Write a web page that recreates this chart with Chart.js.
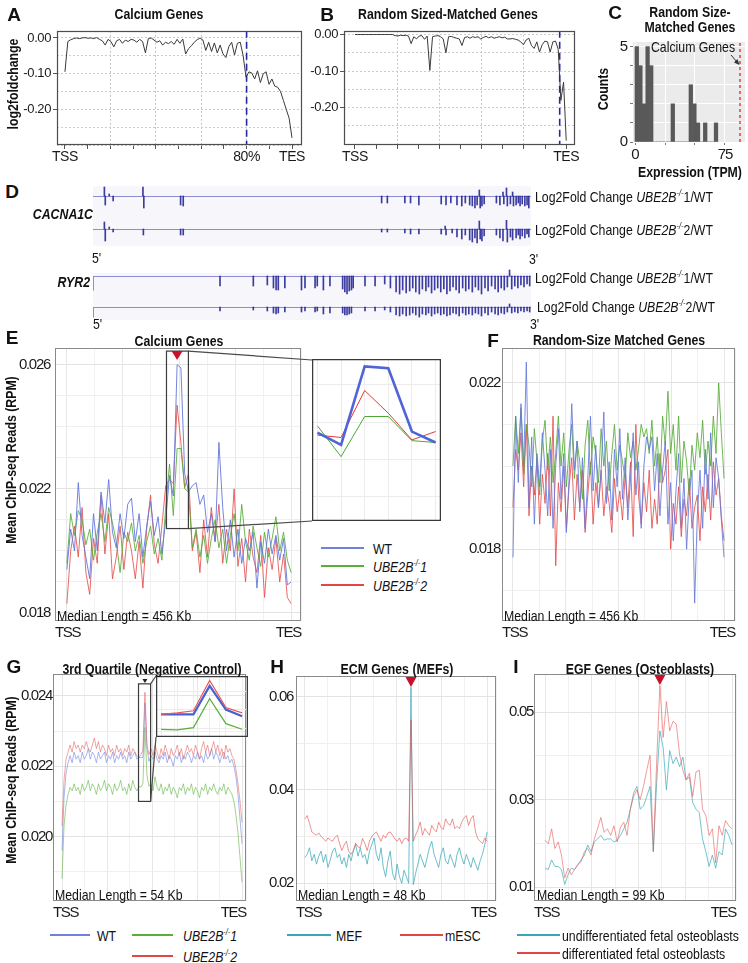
<!DOCTYPE html>
<html>
<head>
<meta charset="utf-8">
<title>UBE2B profiles</title>
<script src="https://cdn.jsdelivr.net/npm/chart.js@4.4.1/dist/chart.umd.min.js"></script>
<style>
  body { margin: 0; background: #fff; }
  #fig { position: relative; width: 748px; height: 963px; overflow: hidden; background: #fff;
         font-family: "Liberation Sans", Arial, sans-serif; color: #111; }
  #fig canvas { position: absolute; }
  .t { position: absolute; white-space: nowrap; line-height: 1; }
  .lt { font-weight: bold; font-size: 19px; }
  .ti { font-weight: bold; font-size: 15px; }
  .ax { font-weight: bold; font-size: 15px; }
  .lg { font-size: 15px; }
  .gn { font-weight: bold; font-style: italic; font-size: 15px; }
  sup { font-size: 9px; vertical-align: 6px; line-height: 0; }
  .sw { position: absolute; }
  .bg { position: absolute; background: #f6f6fb; }
  #ov { position: absolute; left: 0; top: 0; pointer-events: none; }
</style>
</head>
<body>
<div id="fig"></div>
<script>
Chart.defaults.font.family = '"Liberation Sans", Arial, sans-serif';
Chart.defaults.color = '#1a1a1a';

// ---------- A / B : log2 fold change along the gene body ----------
const A_log2fc = [-0.095,-0.010,-0.005,-0.002,0.000,-0.002,0.000,0.001,-0.001,0.000,
  -0.002,0.001,-0.004,-0.008,-0.020,-0.004,-0.010,-0.025,-0.008,-0.004,
  -0.015,-0.006,-0.010,-0.004,-0.006,-0.012,-0.004,-0.010,-0.042,-0.002,
  0.000,-0.006,-0.012,-0.008,-0.020,-0.012,-0.016,-0.010,-0.018,-0.004,
  -0.015,-0.003,-0.045,-0.030,-0.022,-0.012,-0.005,0.000,-0.006,-0.035,
  -0.012,-0.038,-0.014,-0.042,-0.020,-0.045,-0.055,-0.025,-0.012,-0.048,
  -0.015,-0.012,-0.050,-0.110,-0.095,-0.098,-0.115,-0.092,-0.125,-0.100,
  -0.095,-0.130,-0.115,-0.135,-0.138,-0.150,-0.175,-0.200,-0.225,-0.280];
const A_mark = 80;
const B_log2fc = [0,0,0,0,0,0,0,0,0,0,
  0,0,0,0,0,-0.003,-0.004,-0.002,-0.003,-0.002,
  -0.004,-0.025,-0.006,-0.012,-0.004,-0.003,-0.013,-0.004,-0.098,-0.006,
  -0.004,-0.003,-0.006,-0.012,-0.050,-0.006,-0.005,-0.008,-0.010,-0.012,
  -0.030,-0.008,-0.006,-0.010,-0.006,-0.008,-0.006,-0.012,-0.008,-0.005,
  -0.009,-0.006,-0.010,-0.008,-0.006,-0.009,-0.007,-0.012,-0.012,-0.011,
  -0.013,-0.015,-0.020,-0.028,-0.015,-0.010,-0.030,-0.038,-0.020,-0.048,
  -0.028,-0.018,-0.020,-0.048,-0.020,-0.018,-0.040,-0.180,-0.130,-0.290];
const B_mark = 96.9;
const AB_yGrid = [-0.30,-0.25,-0.20,-0.15,-0.10,-0.05,0.00];
const AB_yLab = [-0.20,-0.10,0.00];
const AB_xTicks = [0,10,20,30,40,50,60,70,80,90,100];

// ---------- C : histogram of expression ----------
const C_counts = [5,4,2,5,4,0,0,0,0,0,2,0,0,0,0,3,2,1,0,1,0,0,1];
const C_binStart = 0, C_binWidth = 3;
const C_calcium = 87.5;

// ---------- D : genome tracks (position % of gene, log2FC bar height) ----------
const D_C1_pos = [2.6,2.8,3.7,4.6,11.4,11.6,20.0,20.6,65.9,67.2,71.2,72.5,74.4,79.5,80.6,81.7,83.1,84.2,
  85.0,86.0,86.6,87.2,87.7,88.2,88.4,88.8,89.3,92.1,92.9,93.6,93.8,94.4,94.6,95.3,95.8,96.0,96.6,97.1,
  97.5,98.0,98.6,99.1,99.5];
const D_C1_val = [9,-9,2,-5,9,-12,-9,-10,-7,-7,-7,-7,-9,-8,-9,-7,-9,-10,
  -7,-9,-10,-12,-9,6,-12,-10,-8,-7,-9,4,-8,8,-10,-8,4,-10,-9,-7,
  -10,-8,-10,-9,-12];
const D_C2_pos = [2.6,2.8,3.7,4.6,11.5,20.0,20.6,65.9,67.2,71.2,72.5,74.4,79.5,80.4,80.6,82.0,83.1,
  84.2,85.0,86.0,86.6,87.2,87.7,88.2,88.4,88.8,89.3,92.1,92.9,93.6,94.4,94.6,95.3,95.8,96.6,97.1,97.5,
  98.0,98.6,99.1,99.5];
const D_C2_val = [7,-12,2,-3,-6,-6,-6,-3,-3,-4,-5,-5,-5,3,-6,-4,-8,
  -10,-6,-11,-13,-9,-14,8,-10,-12,-7,-6,-9,-12,9,-13,-8,-11,-9,-6,-10,
  -7,-9,-5,-8];
const D_R1_pos = [29.0,36.6,39.8,41.2,41.8,42.3,43.8,47.6,48.4,50.7,51.2,52.6,54.1,57.0,57.5,58.0,58.5,59.0,59.4,
  62.1,64.4,66.6,67.9,69.2,70.0,70.7,71.5,72.3,73.0,73.7,74.5,75.2,76.0,76.6,77.3,78.0,78.7,79.4,80.1,80.8,
  81.5,82.2,82.9,83.6,84.4,85.1,85.8,86.6,87.3,88.0,88.7,89.5,90.2,91.0,91.8,92.5,93.2,93.9,94.6,95.1,
  95.6,96.3,97.0,97.7,98.4,99.1,99.7];
const D_R1_val = [-10,-10,-9,-12,-14,-14,-12,-14,-12,-12,-10,-14,-10,-13,-16,-18,-15,-14,-12,
  -10,-10,-8,-12,-16,-18,-14,-17,-15,-12,-16,-18,-13,-15,-11,-17,-14,-12,-16,-13,-18,
  -15,-11,-14,-17,-12,-15,-13,-16,-11,-14,-18,-12,-15,-10,-13,-16,-12,-14,-11,6,
  -13,-10,-12,-9,-11,-8,-10];
const D_R2_pos = [29.0,36.6,39.8,41.2,41.8,42.3,43.8,47.6,48.4,50.7,51.2,52.6,54.1,57.0,57.5,58.0,58.5,59.0,
  62.1,64.4,66.6,67.9,69.2,70.0,70.7,71.5,72.3,73.0,73.7,74.5,75.2,76.0,76.6,77.3,78.0,78.7,79.4,80.1,80.8,
  81.5,82.2,82.9,83.6,84.4,85.1,85.8,86.6,87.3,88.0,88.7,89.5,90.2,91.0,91.8,92.5,93.2,93.9,94.6,95.1,
  95.6,96.3,97.0,97.7,98.4,99.1,99.7];
const D_R2_val = [-4,-3,-4,-6,-7,-6,-5,-5,-4,-5,-4,-7,-6,-6,-8,-8,-7,-6,
  -4,-4,-3,-5,-8,-9,-7,-9,-8,-6,-8,-10,-7,-8,-6,-9,-7,-6,-8,-7,-9,
  -8,-6,-7,-9,-6,-8,-7,-8,-6,-7,-9,-6,-8,-5,-7,-8,-6,-7,-5,3,
  -6,-5,-6,-4,-5,-4,-5];

// ---------- E : calcium genes, mean ChIP-seq reads (RPM) ----------
const E_wt = [0.0194,0.0207,0.0200,0.0222,0.0205,0.0198,0.0191,0.0212,0.0200,0.0219,
  0.0209,0.0223,0.0206,0.0201,0.0212,0.0204,0.0215,0.0217,0.0203,0.0212,
  0.0198,0.0208,0.0216,0.0205,0.0211,0.0199,0.0210,0.02243,0.02177,0.0260,
  0.0259,0.02249,0.0219,0.0221,0.0222,0.0215,0.0218,0.0206,0.0212,0.0203,
  0.0235,0.0214,0.0200,0.0210,0.0198,0.0207,0.0196,0.0204,0.0200,0.0206,
  0.0188,0.0203,0.0196,0.0207,0.0199,0.0205,0.0197,0.0204,0.0189,0.0190];
const E_ko1 = [0.0196,0.0212,0.0205,0.0213,0.0210,0.0202,0.0207,0.0197,0.0206,0.0212,
  0.0203,0.0214,0.0209,0.0203,0.0193,0.0206,0.0203,0.0209,0.0200,0.0205,
  0.0196,0.0203,0.0208,0.0199,0.0204,0.0197,0.0214,0.0228,0.02114,0.0233,
  0.0233,0.0220,0.0219,0.0201,0.0207,0.0198,0.0205,0.0196,0.0204,0.0210,
  0.0201,0.0207,0.0196,0.0205,0.0212,0.0200,0.0215,0.0203,0.0197,0.0208,
  0.0201,0.0195,0.0206,0.0198,0.0204,0.0211,0.0200,0.0206,0.0197,0.0193];
const E_ko2 = [0.0183,0.0200,0.0208,0.0198,0.0214,0.0193,0.0186,0.0204,0.0196,0.0218,
  0.0199,0.0212,0.0191,0.0198,0.0208,0.0194,0.0206,0.0200,0.0191,0.0203,
  0.0188,0.0207,0.0218,0.0202,0.0196,0.0208,0.0221,0.0223,0.02217,0.0247,
  0.02348,0.02204,0.02249,0.0200,0.0206,0.0193,0.0210,0.0198,0.0214,0.0203,
  0.0215,0.0196,0.0207,0.0200,0.0220,0.0195,0.0204,0.0190,0.0207,0.0198,
  0.0193,0.0205,0.0185,0.0201,0.0194,0.0204,0.0190,0.0199,0.0185,0.0183];
const E_peak = 29, E_zoom = [27, 32];
const E_boxY = [0.02072, 0.02644];

// ---------- F : random size matched genes ----------
const F_wt = [0.0178,0.0212,0.0196,0.0215,0.0200,0.0225,0.0190,0.0207,0.0186,0.0203,
  0.0195,0.0208,0.0199,0.0188,0.0204,0.0185,0.0200,0.0209,0.0192,0.0203,
  0.0184,0.0197,0.0215,0.0199,0.0206,0.0189,0.0202,0.0185,0.0197,0.0212,
  0.0194,0.0205,0.0190,0.0199,0.0213,0.0191,0.0201,0.0187,0.0204,0.0195,
  0.0209,0.0192,0.0202,0.0187,0.0197,0.0208,0.0193,0.0201,0.0185,0.0200,
  0.0207,0.0204,0.0207,0.0194,0.0203,0.0188,0.0199,0.0206,0.0186,0.0196,
  0.0182,0.0194,0.0203,0.0185,0.0197,0.0180,0.0193,0.0199,0.0167,0.0188,
  0.0199,0.0185,0.0204,0.0192,0.0208,0.0190,0.0202,0.0197,0.0187,0.0178];
const F_ko1 = [0.0200,0.0212,0.0203,0.0214,0.0198,0.0210,0.0205,0.0195,0.0209,0.0201,
  0.0193,0.0206,0.0211,0.0199,0.0207,0.0196,0.0203,0.0212,0.0200,0.0208,
  0.0195,0.0204,0.0210,0.0197,0.0206,0.0201,0.0192,0.0205,0.0211,0.0198,
  0.0207,0.0203,0.0196,0.0209,0.0200,0.0206,0.0194,0.0203,0.0210,0.0199,
  0.0205,0.0201,0.0197,0.0208,0.0202,0.0206,0.0199,0.0204,0.0210,0.0207,
  0.0209,0.0203,0.0211,0.0200,0.0207,0.0196,0.0212,0.0205,0.0218,0.0203,
  0.0210,0.0199,0.0212,0.0196,0.0206,0.0201,0.0193,0.0205,0.0199,0.0208,
  0.0202,0.0211,0.0198,0.0206,0.0200,0.0212,0.0203,0.0220,0.0208,0.0197];
const F_ko2 = [0.0190,0.0204,0.0199,0.0208,0.0195,0.0210,0.0188,0.0200,0.0193,0.0202,
  0.0186,0.0198,0.0191,0.0203,0.0188,0.0212,0.0176,0.0196,0.0189,0.0200,
  0.0185,0.0195,0.0202,0.0187,0.0198,0.0190,0.0199,0.0184,0.0193,0.0201,
  0.0186,0.0196,0.0190,0.0199,0.0188,0.0195,0.0191,0.0184,0.0197,0.0189,
  0.0194,0.0187,0.0198,0.0190,0.0201,0.0183,0.0210,0.0193,0.0186,0.0196,
  0.0189,0.0199,0.0185,0.0192,0.0186,0.0203,0.0196,0.0199,0.0204,0.0180,
  0.0191,0.0186,0.0195,0.0183,0.0192,0.0188,0.0197,0.0185,0.0190,0.0193,
  0.0182,0.0195,0.0189,0.0198,0.0187,0.0201,0.0193,0.0197,0.0188,0.0182];

// ---------- G : 3rd quartile (negative control) ----------
const G_wt = [0.0196,0.0211,0.0218,0.0221,0.0223,0.0221,0.0224,0.0222,0.0223,0.0221,
  0.0224,0.0222,0.0223,0.0225,0.0222,0.0224,0.0223,0.0221,0.0224,0.0222,
  0.0223,0.0224,0.0221,0.0223,0.0222,0.0224,0.0221,0.0223,0.0222,0.0224,
  0.0222,0.0223,0.0221,0.0224,0.0222,0.0223,0.0224,0.0222,0.02225,0.02224,
  0.02225,0.0238,0.02251,0.02214,0.0223,0.0222,0.0224,0.0222,0.0221,0.0223,
  0.0222,0.0224,0.0221,0.0223,0.0222,0.0220,0.0223,0.0222,0.0224,0.0221,
  0.0223,0.0222,0.0224,0.0223,0.0221,0.0223,0.0222,0.0224,0.0222,0.0223,
  0.0221,0.0224,0.0222,0.0223,0.0225,0.0222,0.0224,0.0223,0.0221,0.0223,
  0.0224,0.0222,0.0223,0.0221,0.0222,0.0220,0.0217,0.0212,0.0205,0.0198];
const G_ko1 = [0.0188,0.0203,0.0209,0.0212,0.0214,0.0213,0.0215,0.0213,0.0214,0.0212,
  0.0215,0.0213,0.0214,0.0216,0.0213,0.0215,0.0214,0.0212,0.0215,0.0213,
  0.0214,0.0216,0.0213,0.0215,0.0214,0.0212,0.0215,0.0213,0.0214,0.0216,
  0.0213,0.0214,0.0212,0.0215,0.0213,0.0216,0.0214,0.0213,0.02143,0.02140,
  0.02152,0.0231,0.02174,0.02143,0.0215,0.0213,0.0217,0.0214,0.0213,0.0215,
  0.0212,0.0214,0.0213,0.0215,0.0212,0.0214,0.0213,0.0211,0.0214,0.0213,
  0.0215,0.0212,0.0214,0.0213,0.0215,0.0212,0.0214,0.0213,0.0211,0.0214,
  0.0213,0.0215,0.0212,0.0214,0.0213,0.0215,0.0213,0.0212,0.0214,0.0213,
  0.0215,0.0212,0.0214,0.0213,0.0212,0.0210,0.0206,0.0201,0.0194,0.0187];
const G_ko2 = [0.0203,0.0216,0.0222,0.0224,0.0226,0.0224,0.0227,0.0225,0.0226,0.0224,
  0.0226,0.0225,0.0227,0.0225,0.0224,0.0226,0.0228,0.0225,0.0227,0.0224,
  0.0226,0.0225,0.0223,0.0226,0.0224,0.0225,0.0223,0.0226,0.0224,0.0225,
  0.0223,0.0225,0.0224,0.0226,0.0223,0.0225,0.0224,0.0223,0.02224,0.02233,
  0.02244,0.0241,0.02262,0.02233,0.0225,0.0223,0.0226,0.0224,0.0222,0.0225,
  0.0223,0.0226,0.0224,0.0222,0.0225,0.0223,0.0224,0.0226,0.0223,0.0225,
  0.0222,0.0224,0.0226,0.0224,0.0225,0.0223,0.0226,0.0224,0.0222,0.0225,
  0.0227,0.0224,0.0226,0.0223,0.0225,0.0227,0.0224,0.0226,0.0223,0.0225,
  0.0222,0.0226,0.0224,0.0225,0.0223,0.0222,0.0219,0.0215,0.0210,0.0204];
const G_peak = 41, G_zoom = [38, 43];
const G_boxY = [0.0210, 0.02434];

// ---------- H : ECM genes (MEFs) ----------
const H_mesc = [0.0338,0.0345,0.0328,0.0310,0.0306,0.0303,0.0308,0.0300,0.0296,0.0290,
  0.0297,0.0293,0.0290,0.0298,0.0303,0.0286,0.0270,0.0282,0.0290,0.0268,
  0.0262,0.0270,0.0286,0.0278,0.0276,0.0296,0.0285,0.0270,0.0290,0.0300,
  0.0306,0.0310,0.0300,0.0290,0.0303,0.0297,0.0308,0.0310,0.0303,0.0295,
  0.0290,0.0297,0.0285,0.0295,0.0297,0.0290,0.0550,0.0290,0.0303,0.0315,
  0.0331,0.0303,0.0317,0.0310,0.0303,0.0324,0.0315,0.0310,0.0331,0.0320,
  0.0315,0.0338,0.0328,0.0324,0.0338,0.0317,0.0322,0.0317,0.0331,0.0340,
  0.0345,0.0324,0.0338,0.0345,0.0310,0.0295,0.0290,0.0285,0.0297,0.0290];
const H_mef = [0.0255,0.0262,0.0276,0.0248,0.0262,0.0241,0.0258,0.0269,0.0245,0.0262,
  0.0234,0.0250,0.0269,0.0276,0.0255,0.0262,0.0241,0.0255,0.0234,0.0262,
  0.0248,0.0269,0.0283,0.0258,0.0276,0.0255,0.0262,0.0241,0.0269,0.0283,
  0.0297,0.0262,0.0248,0.0276,0.0234,0.0214,0.0248,0.0269,0.0221,0.0207,
  0.0241,0.0214,0.0200,0.0228,0.0214,0.0200,0.0620,0.0197,0.0221,0.0241,
  0.0262,0.0248,0.0234,0.0255,0.0276,0.0290,0.0262,0.0248,0.0234,0.0262,
  0.0276,0.0248,0.0241,0.0262,0.0248,0.0234,0.0262,0.0276,0.0255,0.0241,
  0.0262,0.0248,0.0234,0.0255,0.0241,0.0228,0.0248,0.0262,0.0283,0.0310];
const H_peak = 46;

// ---------- I : EGF genes (osteoblasts) ----------
const I_diff = [0.0207,0.0199,0.0233,0.0188,0.0203,0.0173,0.0121,0.0143,0.0128,0.0140,
  0.0151,0.0158,0.0181,0.0188,0.0173,0.0210,0.0233,0.0259,0.0225,0.0233,
  0.0218,0.0240,0.0203,0.0237,0.0248,0.0218,0.0278,0.0307,0.0322,0.0300,
  0.0330,0.0367,0.0401,0.0181,0.0382,0.0561,0.0442,0.0524,0.0457,0.0479,
  0.0472,0.0404,0.0367,0.0345,0.0360,0.0307,0.0363,0.0367,0.0278,0.0263,
  0.0218,0.0233,0.0155,0.0240,0.0218,0.0252,0.0240,0.0233];
const I_undiff = [0.0143,0.0140,0.0162,0.0147,0.0147,0.0140,0.0106,0.0128,0.0143,0.0140,
  0.0151,0.0162,0.0173,0.0196,0.0181,0.0203,0.0210,0.0218,0.0207,0.0210,
  0.0210,0.0203,0.0207,0.0218,0.0233,0.0248,0.0278,0.0315,0.0330,0.0278,
  0.0285,0.0307,0.0330,0.0181,0.0337,0.0457,0.0419,0.0322,0.0412,0.0382,
  0.0397,0.0375,0.0397,0.0345,0.0352,0.0293,0.0278,0.0270,0.0210,0.0181,
  0.0147,0.0173,0.0143,0.0181,0.0173,0.0233,0.0218,0.0196];
const I_peak = 35;

// ---------- helpers ----------
const SX = 0.82; // squeeze to look like the narrow face of the original
const spread = n => Array.from({ length: n }, (_, i) => i * 100 / (n - 1));
const near = (v, arr) => arr.some(u => Math.abs(u - v) < 1e-9);
const fig = document.getElementById('fig');

function txt(html, x, y, cls, align, rot) {
  const d = document.createElement('div');
  d.className = 't ' + cls;
  d.innerHTML = html;
  d.style.left = x + 'px';
  d.style.top = y + 'px';
  const sq = cls === 'lt' ? 1 : SX;
  if (rot) {
    d.style.transform = `translate(-50%,-50%) rotate(-90deg) scaleX(${sq})`;
  } else {
    const tx = align === 'c' ? '-50%' : (align === 'r' ? '-100%' : '0');
    d.style.transformOrigin = (align === 'c' ? 'center' : (align === 'r' ? 'right' : 'left')) + ' center';
    d.style.transform = `translate(${tx},-50%) scaleX(${sq})`;
  }
  fig.appendChild(d);
}
function swatch(x1, x2, y, color) {
  const d = document.createElement('div');
  d.className = 'sw';
  Object.assign(d.style, { left: x1 + 'px', width: (x2 - x1) + 'px', top: (y - 1) + 'px', height: '2px', background: color });
  fig.appendChild(d);
}
function rect(x, y, w, h) {
  const d = document.createElement('div');
  d.className = 'bg';
  Object.assign(d.style, { left: x + 'px', top: y + 'px', width: w + 'px', height: h + 'px' });
  fig.appendChild(d);
}
function canvasAt(x, y, w, h) {
  const c = document.createElement('canvas');
  c.width = w; c.height = h;
  c.style.left = x + 'px'; c.style.top = y + 'px';
  c.style.width = w + 'px'; c.style.height = h + 'px';
  fig.appendChild(c);
  return c;
}

// frame / background / zoom box / peak marker / baseline
const deco = {
  id: 'deco',
  defaults: {},
  beforeDraw(chart, args, o) {
    const a = chart.chartArea, c = chart.ctx;
    c.letterSpacing = o.ls || '0px';
    if (!o.fill) return;
    c.save(); c.fillStyle = o.fill;
    c.fillRect(a.left, a.top, a.right - a.left, a.bottom - a.top);
    c.restore();
  },
  beforeDatasetsDraw(chart, args, o) {
    const a = chart.chartArea, c = chart.ctx;
    if (o.baseline) {
      const y0 = Math.round(chart.scales.y.getPixelForValue(0)) + 0.5;
      c.save(); c.strokeStyle = o.baseline; c.lineWidth = 1;
      c.beginPath(); c.moveTo(a.left, y0); c.lineTo(a.right, y0);
      if (o.edge) { c.moveTo(a.left + 0.5, y0); c.lineTo(a.left + 0.5, y0 + o.edge); }
      c.stroke(); c.restore();
    }
  },
  afterDraw(chart, args, o) {
    const a = chart.chartArea, c = chart.ctx, xs = chart.scales.x, ys = chart.scales.y;
    c.save();
    if (o.box) {
      const x0 = xs.getPixelForValue(o.box.x[0]), x1 = xs.getPixelForValue(o.box.x[1]);
      const y0 = ys.getPixelForValue(o.box.y[0]), y1 = ys.getPixelForValue(o.box.y[1]);
      c.strokeStyle = '#3d3d3d'; c.lineWidth = 1.2;
      c.strokeRect(x0, y1, x1 - x0, y0 - y1);
    }
    if (o.frame) {
      c.strokeStyle = o.frame; c.lineWidth = o.frameWidth || 1;
      c.strokeRect(Math.round(a.left) + 0.5, Math.round(a.top) + 0.5,
        Math.round(a.right - a.left) - 1, Math.round(a.bottom - a.top) - 1);
    }
    if (o.marker) {
      const m = o.marker, px = xs.getPixelForValue(m.x), top = a.top + m.dy;
      c.fillStyle = m.color;
      c.beginPath(); c.moveTo(px - m.w / 2, top); c.lineTo(px + m.w / 2, top); c.lineTo(px, top + m.h);
      c.closePath(); c.fill();
    }
    c.restore();
  }
};
Chart.register(deco);

const base = { responsive: false, animation: false, events: [] };
const noPlug = { legend: { display: false }, tooltip: { enabled: false } };

function foldChart(o) {
  const cv = canvasAt(o.x - o.yw, o.y - o.pt, o.yw + o.w + o.pr, o.pt + o.h + o.xh);
  const pos = spread(o.vals.length);
  return new Chart(cv, {
    type: 'line',
    data: { datasets: [
      { data: o.vals.map((v, i) => ({ x: pos[i], y: v })), borderColor: '#3a3a3a', borderWidth: 1, pointRadius: 0 },
      { data: [{ x: o.mark, y: o.yr[1] }, { x: o.mark, y: o.yr[0] }], borderColor: '#2626a6',
        borderWidth: 1.6, borderDash: [7, 4], pointRadius: 0 }
    ] },
    options: { ...base,
      layout: { padding: { top: o.pt, right: o.pr, left: 0, bottom: 0 } },
      scales: {
        x: { type: 'linear', min: o.xr[0], max: o.xr[1],
          afterFit: s => { s.height = o.xh; },
          afterBuildTicks: s => { s.ticks = AB_xTicks.map(v => ({ value: v })); },
          ticks: { autoSkip: false, maxRotation: 0, padding: 0, font: { size: 14 }, callback: v => o.xLab[v] || '' },
          grid: { tickLength: 4, tickColor: '#555',
            color: c => c.tick && c.tick.value % 20 === 0 && c.tick.value > 0 && c.tick.value < 100 ? '#c4c4c4' : 'rgba(0,0,0,0)' },
          border: { display: false, dash: [2, 2] } },
        y: { min: o.yr[0], max: o.yr[1],
          afterFit: s => { s.width = o.yw; },
          afterBuildTicks: s => { s.ticks = AB_yGrid.map(v => ({ value: v })); },
          ticks: { autoSkip: false, padding: 2, font: { size: 13 }, callback: v => near(v, AB_yLab) ? v.toFixed(2) : '' },
          grid: { tickLength: 4, tickColor: c => c.tick && near(c.tick.value, AB_yLab) ? '#555' : 'rgba(0,0,0,0)', color: '#cbcbcb' },
          border: { display: false, dash: [2, 2] } }
      },
      plugins: { ...noPlug, deco: { frame: '#4d4d4d', frameWidth: 1.2, ls: '-0.4px' } }
    }
  });
}

function profile(o) {
  const cv = canvasAt(o.x - o.yw, o.y - o.pt, o.yw + o.w + o.pr, o.pt + o.h + o.xh);
  return new Chart(cv, {
    type: 'line',
    data: { datasets: o.series.map(s => ({
      data: s.vals.map((v, i) => ({ x: s.pos[i], y: v })),
      borderColor: s.color, borderWidth: s.width || 1, pointRadius: 0, tension: 0
    })) },
    options: { ...base,
      layout: { padding: { top: o.pt, right: o.pr, left: 0, bottom: 0 } },
      scales: {
        x: { type: 'linear', min: o.xr[0], max: o.xr[1],
          afterFit: s => { s.height = o.xh; },
          afterBuildTicks: s => { s.ticks = [o.xr[0], 0, 12.5, 25, 37.5, 50, 62.5, 75, 87.5, 100, o.xr[1]].map(v => ({ value: v })); },
          ticks: { autoSkip: false, maxRotation: 0, align: 'inner', padding: 3, font: { size: 15 },
            callback: v => v === o.xr[0] ? 'TSS' : (v === o.xr[1] ? 'TES' : '') },
          grid: { drawTicks: false, color: c => c.tick && c.tick.value % 25 === 0 ? '#e6e6e6' : '#f1f1f1' },
          border: { display: false } },
        y: { min: o.yr[0], max: o.yr[1],
          afterFit: s => { s.width = o.yw; },
          afterBuildTicks: s => { s.ticks = o.yGrid.map(v => ({ value: v })); },
          ticks: { autoSkip: false, padding: o.ypad, font: { size: 15 },
            callback: v => near(v, o.yLab) ? v.toFixed(o.dec) : '' },
          grid: { drawTicks: false, color: c => c.tick && near(c.tick.value, o.yLab) ? '#e3e3e3' : '#efefef' },
          border: { display: false } }
      },
      plugins: { ...noPlug, deco: Object.assign({ ls: '-1.3px' }, o.deco) }
    }
  });
}

function inset(o) {
  const cv = canvasAt(o.x, o.y, o.w, o.h);
  return new Chart(cv, {
    type: 'line',
    data: { datasets: o.series.map(s => ({
      data: s.vals.map((v, i) => ({ x: s.pos[i], y: v })),
      borderColor: s.color, borderWidth: s.width || 1, pointRadius: 0, tension: 0
    })) },
    options: { ...base,
      layout: { padding: 0 },
      scales: {
        x: { type: 'linear', min: o.xr[0], max: o.xr[1], afterFit: s => { s.height = 0; },
          afterBuildTicks: s => { s.ticks = o.xGrid.map(v => ({ value: v })); },
          ticks: { display: false }, grid: { drawTicks: false, color: '#ececec' }, border: { display: false } },
        y: { min: o.yr[0], max: o.yr[1], afterFit: s => { s.width = 0; },
          afterBuildTicks: s => { s.ticks = o.yGrid.map(v => ({ value: v })); },
          ticks: { display: false }, grid: { drawTicks: false, color: '#ececec' }, border: { display: false } }
      },
      plugins: { ...noPlug, deco: { frame: '#3a3a3a', frameWidth: 1.5 } }
    }
  });
}

function track(o) {
  const cv = canvasAt(93, o.base - o.up, 438, o.up + o.down);
  return new Chart(cv, {
    type: 'bar',
    data: { datasets: [{ data: o.pos.map((p, i) => ({ x: p, y: o.vals[i] })), backgroundColor: 'rgba(40,40,150,0.9)', barThickness: 1 }] },
    options: { ...base,
      layout: { padding: 0 },
      scales: {
        x: { type: 'linear', min: 0, max: 100, display: false, offset: false },
        y: { min: -o.down, max: o.up, display: false }
      },
      plugins: { ...noPlug, deco: { baseline: '#8c8cd0', edge: o.edge } }
    }
  });
}

// ---------- panel A / B ----------
foldChart({ x: 57, y: 23, w: 245, h: 122, yw: 57, xh: 20, pt: 2, pr: 4,
  xr: [-3.5, 104.4], yr: [-0.30, 0.02], vals: A_log2fc, mark: A_mark, xLab: { 0: 'TSS', 80: '80%', 100: 'TES' } });
foldChart({ x: 344, y: 23, w: 232, h: 122, yw: 44, xh: 20, pt: 2, pr: 4,
  xr: [-5.2, 104.2], yr: [-0.302, 0.0102], vals: B_log2fc, mark: B_mark, xLab: { 0: 'TSS', 100: 'TES' } });

// ---------- panel C ----------
(function () {
  const cv = canvasAt(633 - 28, 32 - 2, 28 + 112 + 3, 2 + 110 + 22);
  new Chart(cv, {
    type: 'bar',
    data: { datasets: [
      { type: 'bar', data: C_counts.map((c, k) => ({ x: C_binStart + C_binWidth * (k + 0.5), y: c })),
        backgroundColor: '#595959', barPercentage: 1, categoryPercentage: 1 },
      { type: 'line', data: [{ x: C_calcium, y: 0 }, { x: C_calcium, y: 5.24 }], borderColor: '#e0262a',
        borderWidth: 1.3, borderDash: [3, 3], pointRadius: 0 }
    ] },
    options: { ...base,
      layout: { padding: { top: 2, right: 3, left: 0, bottom: 0 } },
      scales: {
        x: { type: 'linear', min: -1.67, max: 91.67, offset: false,
          afterFit: s => { s.height = 22; },
          afterBuildTicks: s => { s.ticks = [0, 25, 50, 75].map(v => ({ value: v })); },
          ticks: { autoSkip: false, maxRotation: 0, padding: 1, font: { size: 15 }, callback: v => (v === 0 || v === 75) ? String(v) : '' },
          grid: { offset: false, color: '#ffffff', tickLength: 3, tickColor: '#777' }, border: { display: false } },
        y: { min: 0, max: 5.24,
          afterFit: s => { s.width = 28; },
          afterBuildTicks: s => { s.ticks = [0, 1, 2, 3, 4, 5].map(v => ({ value: v })); },
          ticks: { autoSkip: false, padding: 3, font: { size: 15 }, callback: v => (v === 0 || v === 5) ? String(v) : '' },
          grid: { color: '#ffffff', tickLength: 3, tickColor: '#777' }, border: { display: false } }
      },
      plugins: { ...noPlug, deco: { fill: '#ebebeb', ls: '-1px' } }
    }
  });
})();

// ---------- panel D ----------
rect(93, 186, 438, 60);
rect(93, 273, 438, 47);
track({ base: 196, up: 10, down: 13, pos: D_C1_pos, vals: D_C1_val });
track({ base: 229, up: 9, down: 15, pos: D_C2_pos, vals: D_C2_val });
track({ base: 276, up: 7, down: 20, pos: D_R1_pos, vals: D_R1_val, edge: 14 });
track({ base: 307, up: 4, down: 12, pos: D_R2_pos, vals: D_R2_val, edge: 10 });

// ---------- panel E ----------
const E_x = spread(E_wt.length);
const E_boxX = [E_x[E_zoom[0]] - 1.35, E_x[E_zoom[1]] - 0.05];
const chE = profile({ x: 55, y: 346, w: 247, h: 275, yw: 55, xh: 24, pt: 12, pr: 2, ypad: 5,
  xr: [-5.3, 104.4], yr: [0.01774, 0.02654],
  yGrid: [0.018, 0.019, 0.020, 0.021, 0.022, 0.023, 0.024, 0.025, 0.026], yLab: [0.018, 0.022, 0.026], dec: 3,
  series: [
    { pos: E_x, vals: E_wt, color: 'rgba(100,120,220,0.9)' },
    { pos: E_x, vals: E_ko1, color: 'rgba(85,170,55,0.85)' },
    { pos: E_x, vals: E_ko2, color: 'rgba(228,70,66,0.8)' }
  ],
  deco: { frame: '#8a8a8a', box: { x: E_boxX, y: E_boxY },
    marker: { x: E_x[E_peak], color: '#c8102e', w: 11, h: 9, dy: 3 } } });
const E_sl = a => a.slice(E_zoom[0], E_zoom[1] + 1);
inset({ x: 312, y: 359, w: 129, h: 162,
  xr: [E_x[E_zoom[0]] - 0.39, E_x[E_zoom[1]] + 0.39], yr: [0.01767, 0.0264],
  xGrid: E_sl(E_x), yGrid: [0.019, 0.021, 0.023, 0.025],
  series: [
    { pos: E_sl(E_x), vals: E_sl(E_wt), color: '#5064d6', width: 2.6 },
    { pos: E_sl(E_x), vals: E_sl(E_ko2), color: '#e0383a', width: 1 },
    { pos: E_sl(E_x), vals: E_sl(E_ko1), color: '#4aa832', width: 1 }
  ] });

// ---------- panel F ----------
const F_x = spread(F_wt.length);
profile({ x: 502, y: 348, w: 234, h: 273, yw: 50, xh: 24, pt: 12, pr: 2, ypad: 2,
  xr: [-5.2, 105.2], yr: [0.01627, 0.02284],
  yGrid: [0.017, 0.018, 0.019, 0.020, 0.021, 0.022], yLab: [0.018, 0.022], dec: 3,
  series: [
    { pos: F_x, vals: F_wt, color: 'rgba(100,120,220,0.85)' },
    { pos: F_x, vals: F_ko1, color: 'rgba(85,170,55,0.85)' },
    { pos: F_x, vals: F_ko2, color: 'rgba(228,70,66,0.8)' }
  ],
  deco: { frame: '#8a8a8a' } });

// ---------- panel G ----------
const G_x = spread(G_wt.length);
const chG = profile({ x: 53, y: 672, w: 194, h: 229, yw: 53, xh: 22, pt: 8, pr: 2, ypad: 1,
  xr: [-5.0, 102.2], yr: [0.01817, 0.02462],
  yGrid: [0.019, 0.020, 0.021, 0.022, 0.023, 0.024], yLab: [0.020, 0.022, 0.024], dec: 3,
  series: [
    { pos: G_x, vals: G_ko2, color: 'rgba(232,90,90,0.55)' },
    { pos: G_x, vals: G_wt, color: 'rgba(110,135,225,0.6)' },
    { pos: G_x, vals: G_ko1, color: 'rgba(100,180,70,0.6)' }
  ],
  deco: { frame: '#8a8a8a', box: { x: [G_x[G_zoom[0]] - 0.2, G_x[G_zoom[1]] + 0.9], y: G_boxY },
    marker: { x: G_x[G_peak], color: '#222', w: 5, h: 4, dy: 5 } } });
const G_sl = a => a.slice(G_zoom[0], G_zoom[1] + 1);
inset({ x: 156, y: 676, w: 92, h: 61,
  xr: [G_x[G_zoom[0]] - 0.35, G_x[G_zoom[1]] + 0.41], yr: [0.02101, 0.02434],
  xGrid: G_sl(G_x), yGrid: [0.0215, 0.0225, 0.0235],
  series: [
    { pos: G_sl(G_x), vals: G_sl(G_ko2), color: '#e8585a', width: 1.2 },
    { pos: G_sl(G_x), vals: G_sl(G_wt), color: '#4a5fd0', width: 2.2 },
    { pos: G_sl(G_x), vals: G_sl(G_ko1), color: '#5aae3a', width: 1.2 }
  ] });

// ---------- panel H ----------
const H_x = spread(H_mef.length);
profile({ x: 296, y: 672, w: 201, h: 229, yw: 40, xh: 22, pt: 8, pr: 2, ypad: 3,
  xr: [-4.9, 104.9], yr: [0.0162, 0.0644],
  yGrid: [0.02, 0.03, 0.04, 0.05, 0.06], yLab: [0.02, 0.04, 0.06], dec: 2,
  series: [
    { pos: H_x, vals: H_mesc, color: 'rgba(225,75,75,0.6)' },
    { pos: H_x, vals: H_mef, color: 'rgba(60,170,185,0.75)' }
  ],
  deco: { frame: '#8a8a8a', marker: { x: H_x[H_peak], color: '#c8102e', w: 11, h: 10, dy: 1 } } });

// ---------- panel I ----------
const I_x = spread(I_diff.length);
profile({ x: 534, y: 672, w: 203, h: 229, yw: 38, xh: 22, pt: 8, pr: 2, ypad: 1,
  xr: [-5.9, 102.1], yr: [0.0068, 0.0587],
  yGrid: [0.01, 0.02, 0.03, 0.04, 0.05], yLab: [0.01, 0.03, 0.05], dec: 2,
  series: [
    { pos: I_x, vals: I_diff, color: 'rgba(230,90,90,0.6)' },
    { pos: I_x, vals: I_undiff, color: 'rgba(60,170,185,0.7)' }
  ],
  deco: { frame: '#8a8a8a', marker: { x: I_x[I_peak], color: '#c8102e', w: 11, h: 10, dy: 1 } } });

// ---------- text ----------
[['A', 14, 14], ['B', 327, 14], ['C', 615, 12], ['D', 12, 191], ['E', 12, 337],
 ['F', 493, 340], ['G', 14, 666], ['H', 277, 666], ['I', 516, 666]].forEach(l => txt(l[0], l[1], l[2], 'lt', 'c'));

txt('Calcium Genes', 159, 13, 'ti', 'c');
txt('Random Sized-Matched Genes', 448, 13, 'ti', 'c');
txt('Random Size-', 690, 11, 'ti', 'c');
txt('Matched Genes', 690, 26, 'ti', 'c');
txt('Calcium Genes', 179, 340, 'ti', 'c');
txt('Random-Size Matched Genes', 619, 339, 'ti', 'c');
txt('3rd Quartile (Negative Control)', 152, 668, 'ti', 'c');
txt('ECM Genes (MEFs)', 397, 668, 'ti', 'c');
txt('EGF Genes (Osteoblasts)', 640, 668, 'ti', 'c');

txt('log2foldchange', 12, 84, 'ax', 'c', true);
txt('Counts', 602, 89, 'ax', 'c', true);
txt('Expression (TPM)', 690, 171, 'ax', 'c');
txt('Mean ChIP-seq Reads (RPM)', 10, 460, 'ax', 'c', true);
txt('Mean ChIP-seq Reads (RPM)', 10, 780, 'ax', 'c', true);
txt('Calcium Genes', 693, 46, 'lg', 'c');

// D labels
const ko = n => 'Log2Fold Change <i>UBE2B</i><sup><i>-/-</i></sup>' + n + '/WT';
txt('CACNA1C', 93, 213, 'gn', 'r');
txt('RYR2', 90, 281, 'gn', 'r');
txt(ko(1), 535, 196, 'lg', 'l');
txt(ko(2), 535, 229, 'lg', 'l');
txt(ko(1), 535, 277, 'lg', 'l');
txt(ko(2), 537, 306, 'lg', 'l');
txt("5'", 92, 257, 'lg', 'l');
txt("3'", 529, 258, 'lg', 'l');
txt("5'", 93, 323, 'lg', 'l');
txt("3'", 530, 323, 'lg', 'l');

// medians
txt('Median Length = 456 Kb', 57, 615, 'lg', 'l');
txt('Median Length = 456 Kb', 504, 615, 'lg', 'l');
txt('Median Length = 54 Kb', 55, 894, 'lg', 'l');
txt('Median Length = 48 Kb', 298, 894, 'lg', 'l');
txt('Median Length = 99 Kb', 537, 894, 'lg', 'l');

// legends
const koI = n => '<i>UBE2B</i><sup><i>-/-</i></sup><i>' + n + '</i>';
swatch(321, 364, 548, '#6f80de'); txt('WT', 373, 548, 'lg', 'l');
swatch(321, 364, 566, '#5aae3a'); txt(koI(1), 373, 566, 'lg', 'l');
swatch(321, 364, 585, '#e04848'); txt(koI(2), 373, 585, 'lg', 'l');
swatch(50, 90, 935, '#6f80de'); txt('WT', 97, 935, 'lg', 'l');
swatch(132, 173, 935, '#5aae3a'); txt(koI(1), 183, 935, 'lg', 'l');
swatch(132, 173, 956, '#e04848'); txt(koI(2), 183, 956, 'lg', 'l');
swatch(287, 331, 935, '#3aa6b8'); txt('MEF', 336, 935, 'lg', 'l');
swatch(400, 443, 935, '#e04848'); txt('mESC', 445, 935, 'lg', 'l');
swatch(517, 560, 935, '#3aa6b8'); txt('undifferentiated fetal osteoblasts', 562, 935, 'lg', 'l');
swatch(517, 560, 953, '#e04848'); txt('differentiated fetal osteoblasts', 562, 953, 'lg', 'l');

// connectors from the zoom boxes to the insets, and the arrow in C
(function () {
  const ns = 'http://www.w3.org/2000/svg';
  const svg = document.createElementNS(ns, 'svg');
  svg.setAttribute('id', 'ov'); svg.setAttribute('width', 748); svg.setAttribute('height', 963);
  const line = (x1, y1, x2, y2, col, w) => {
    const l = document.createElementNS(ns, 'line');
    [['x1', x1], ['y1', y1], ['x2', x2], ['y2', y2], ['stroke', col], ['stroke-width', w]].forEach(p => l.setAttribute(p[0], p[1]));
    svg.appendChild(l);
  };
  const corner = (ch, left, top, xv, yv) => [left + ch.scales.x.getPixelForValue(xv), top + ch.scales.y.getPixelForValue(yv)];
  const eT = corner(chE, 0, 334, E_boxX[1], E_boxY[1]), eB = corner(chE, 0, 334, E_boxX[1], E_boxY[0]);
  line(eT[0], eT[1], 312, 360, '#4a4a4a', 1.2);
  line(eB[0], eB[1], 312, 521, '#4a4a4a', 1.2);
  const gx = G_x[G_zoom[1]] + 0.9;
  const gT = corner(chG, 0, 664, gx, G_boxY[1]), gB = corner(chG, 0, 664, gx, G_boxY[0]);
  line(gT[0], gT[1], 156, 676, '#4a4a4a', 1.2);
  line(gB[0], gB[1], 156, 737, '#4a4a4a', 1.2);
  line(731, 55, 737, 62, '#333', 1);
  const p = document.createElementNS(ns, 'polygon');
  p.setAttribute('points', '739.5,65 734,62.5 737.5,59');
  p.setAttribute('fill', '#333');
  svg.appendChild(p);
  fig.appendChild(svg);
})();
</script>
</body>
</html>
